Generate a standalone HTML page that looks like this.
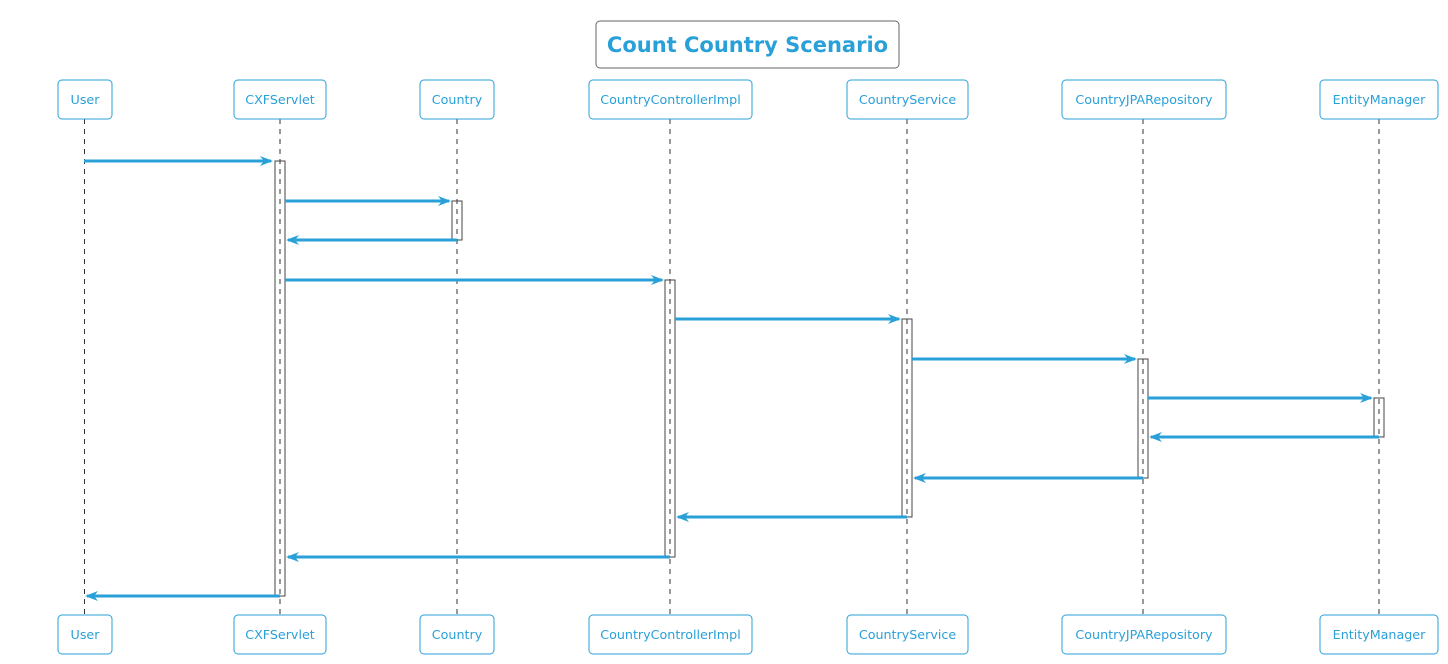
<!DOCTYPE html>
<html><head><meta charset="utf-8"><style>
html,body{margin:0;padding:0;background:#fff;}
svg{display:block;font-family:"DejaVu Sans","Liberation Sans",sans-serif;}
</style></head><body>
<svg width="1448" height="664" viewBox="0 0 1448 664" xmlns="http://www.w3.org/2000/svg">
<rect x="596" y="21" width="303" height="47" rx="4" fill="#fff" stroke="#666" stroke-width="1"/>
<text x="747.5" y="52" text-anchor="middle" font-size="21" font-weight="bold" fill="#29a0d8">Count Country Scenario</text>
<g stroke="#333" stroke-width="1" stroke-dasharray="5,5">
<line x1="84.5" y1="119" x2="84.5" y2="615"/>
<line x1="280" y1="119" x2="280" y2="615"/>
<line x1="457" y1="119" x2="457" y2="615"/>
<line x1="670" y1="119" x2="670" y2="615"/>
<line x1="907" y1="119" x2="907" y2="615"/>
<line x1="1143" y1="119" x2="1143" y2="615"/>
<line x1="1379" y1="119" x2="1379" y2="615"/>
</g>
<g fill="none" stroke="#444" stroke-width="1">
<rect x="275" y="161" width="10" height="435"/>
<rect x="452" y="201" width="10" height="39"/>
<rect x="665" y="280" width="10" height="277"/>
<rect x="902" y="319" width="10" height="198"/>
<rect x="1138" y="359" width="10" height="119"/>
<rect x="1374" y="398" width="10" height="39"/>
</g>
<g stroke="#29a0d8" stroke-width="3">
<line x1="84" y1="161" x2="271" y2="161"/>
<line x1="285" y1="201" x2="449" y2="201"/>
<line x1="457" y1="240" x2="288" y2="240"/>
<line x1="285" y1="280" x2="662" y2="280"/>
<line x1="675" y1="319" x2="899" y2="319"/>
<line x1="912" y1="359" x2="1135" y2="359"/>
<line x1="1148" y1="398" x2="1371" y2="398"/>
<line x1="1379" y1="437" x2="1151" y2="437"/>
<line x1="1143" y1="478" x2="915" y2="478"/>
<line x1="907" y1="517" x2="678" y2="517"/>
<line x1="670" y1="557" x2="288" y2="557"/>
<line x1="280" y1="596" x2="87" y2="596"/>
</g>
<g fill="#29a0d8">
<path d="M260 156 L273 161 L260 166 L264 161Z"/>
<path d="M438 196 L451 201 L438 206 L442 201Z"/>
<path d="M299 235 L286 240 L299 245 L295 240Z"/>
<path d="M651 275 L664 280 L651 285 L655 280Z"/>
<path d="M888 314 L901 319 L888 324 L892 319Z"/>
<path d="M1124 354 L1137 359 L1124 364 L1128 359Z"/>
<path d="M1360 393 L1373 398 L1360 403 L1364 398Z"/>
<path d="M1162 432 L1149 437 L1162 442 L1158 437Z"/>
<path d="M926 473 L913 478 L926 483 L922 478Z"/>
<path d="M689 512 L676 517 L689 522 L685 517Z"/>
<path d="M299 552 L286 557 L299 562 L295 557Z"/>
<path d="M98 591 L85 596 L98 601 L94 596Z"/>
</g>
<g fill="#fff" stroke="#29a0d8" stroke-width="1">
<rect x="58" y="80" width="54" height="39" rx="4"/>
<rect x="234" y="80" width="92" height="39" rx="4"/>
<rect x="420" y="80" width="74" height="39" rx="4"/>
<rect x="589" y="80" width="163" height="39" rx="4"/>
<rect x="847" y="80" width="121" height="39" rx="4"/>
<rect x="1062" y="80" width="164" height="39" rx="4"/>
<rect x="1320" y="80" width="118" height="39" rx="4"/>
<rect x="58" y="615" width="54" height="39" rx="4"/>
<rect x="234" y="615" width="92" height="39" rx="4"/>
<rect x="420" y="615" width="74" height="39" rx="4"/>
<rect x="589" y="615" width="163" height="39" rx="4"/>
<rect x="847" y="615" width="121" height="39" rx="4"/>
<rect x="1062" y="615" width="164" height="39" rx="4"/>
<rect x="1320" y="615" width="118" height="39" rx="4"/>
</g>
<g fill="#29a0d8" font-size="12.7" text-anchor="middle">
<text x="85" y="104">User</text>
<text x="280" y="104">CXFServlet</text>
<text x="457" y="104">Country</text>
<text x="670.5" y="104">CountryControllerImpl</text>
<text x="907.5" y="104">CountryService</text>
<text x="1144" y="104">CountryJPARepository</text>
<text x="1379" y="104">EntityManager</text>
<text x="85" y="639">User</text>
<text x="280" y="639">CXFServlet</text>
<text x="457" y="639">Country</text>
<text x="670.5" y="639">CountryControllerImpl</text>
<text x="907.5" y="639">CountryService</text>
<text x="1144" y="639">CountryJPARepository</text>
<text x="1379" y="639">EntityManager</text>
</g>
</svg>
</body></html>
